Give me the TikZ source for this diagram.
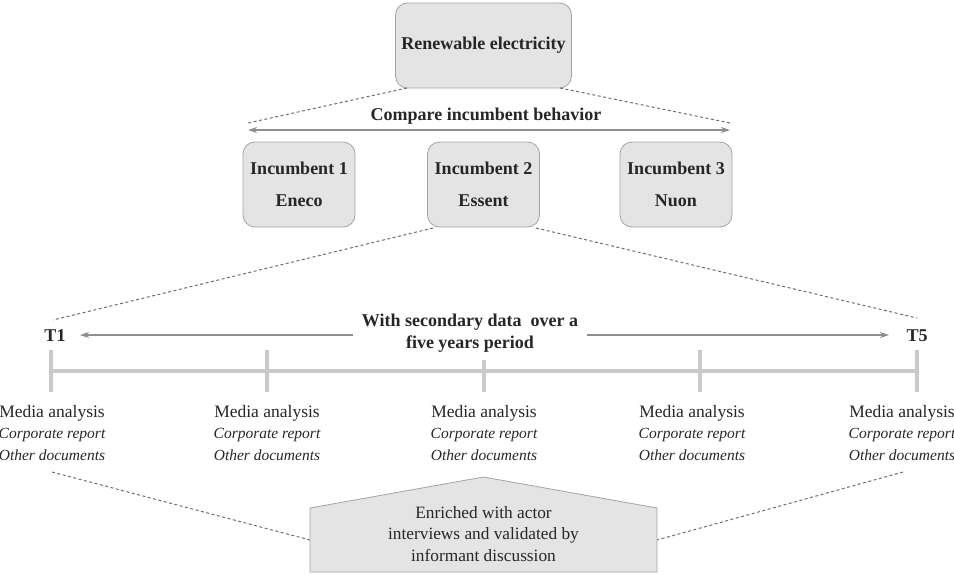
\documentclass[tikz,border=0pt]{standalone}
\usepackage{fontspec}
\setmainfont{Liberation Serif}
\usetikzlibrary{arrows.meta,calc}
\definecolor{boxfill}{HTML}{E4E4E4}
\definecolor{boxline}{HTML}{A3A3A3}
\definecolor{dashc}{HTML}{6E6E6E}
\definecolor{arrc}{HTML}{8E8E8E}
\definecolor{tlc}{HTML}{C9C9C9}
\definecolor{txt}{HTML}{262626}
\newcommand{\itl}[1]{{\fontsize{15.5}{21.5}\selectfont\itshape #1}}
\begin{document}
\begin{tikzpicture}[x=1pt,y=-1pt,
  every node/.style={text=txt,font=\fontsize{17.5}{21}\selectfont,inner sep=0pt},
  rbox/.style={draw=boxline,fill=boxfill,rounded corners=12pt,line width=0.8pt,
     align=center,font=\fontsize{18}{21}\selectfont\bfseries},
  dline/.style={draw=dashc,dashed,dash pattern=on 3pt off 2.5pt,line width=1pt},
  garrow/.style={draw=arrc,line width=1.3pt,-{Stealth[length=9pt,width=6pt]}},
  tline/.style={draw=tlc,line width=4pt},
  lbl/.style={font=\fontsize{18}{21.5}\selectfont\bfseries},
  col/.style={align=center,font=\fontsize{17.5}{21.5}\selectfont}
]
\useasboundingbox (0,0) rectangle (954,574);

% top box
\node[rbox,minimum width=176pt,minimum height=85pt] (ren) at (483.5,45.5) {Renewable electricity};
\coordinate (renL) at (407,88);
\coordinate (renR) at (560,88);
\coordinate (cl) at (248,123);
\coordinate (cr) at (730,123);
\draw[dline] (renL) -- (cl);
\draw[dline] (renR) -- (cr);

\node[lbl] (cmp) at (486,116) {Compare incumbent behavior};
\coordinate (al) at (248,130);
\coordinate (ar) at (730,130);
\draw[draw=arrc,line width=1.3pt,{Stealth[length=9pt,width=6pt]}-{Stealth[length=9pt,width=6pt]}] (al) -- (ar);

% incumbents
\node[rbox,minimum width=112pt,minimum height=85pt] (i1) at (299,184.5) {Incumbent 1\\[11pt]Eneco};
\node[rbox,minimum width=112pt,minimum height=85pt] (i2) at (483.5,184.5) {Incumbent 2\\[11pt]Essent};
\node[rbox,minimum width=112pt,minimum height=85pt] (i3) at (676,184.5) {Incumbent 3\\[11pt]Nuon};

\coordinate (i2L) at (433,228);
\coordinate (i2R) at (536,228);
\coordinate (tl) at (53,320);
\coordinate (tr) at (917,318);
\draw[dline] (i2L) -- (tl);
\draw[dline] (i2R) -- (tr);

% T labels and arrows
\node[lbl] (t1) at (55,336) {T1};
\node[lbl] (t5) at (917,336) {T5};
\node[lbl,align=center] (mid) at (470,333) {With secondary data\ \ over a\\five years period};
\coordinate (m1) at (353,335);
\coordinate (m2) at (587,335);
\coordinate (a1) at (80,335);
\coordinate (a2) at (889,335);
\draw[garrow] (m1) -- (a1);
\draw[garrow] (m2) -- (a2);

% timeline
\coordinate (p1) at (51,371);
\coordinate (p2) at (267,371);
\coordinate (p3) at (484,371);
\coordinate (p4) at (700,371);
\coordinate (p5) at (917,371);
\draw[tline] (p1) -- (p5);
\foreach \p in {p1,p2,p4,p5}{
  \draw[tline] ($(\p)+(0,-21)$) -- ($(\p)+(0,21)$);
}
\draw[tline] ($(p3)+(0,-11)$) -- ($(p3)+(0,21)$);

% columns
\foreach \n/\x in {c1/52,c2/267,c3/484,c4/692,c5/902}{
  \node[col] (\n) at (\x,433) {Media analysis\\\itl{Corporate report}\\\itl{Other documents}};
}

% pentagon
\coordinate (pl) at (310,540);
\coordinate (pr) at (657,540);
\coordinate (q1) at (52,472);
\coordinate (q2) at (903,472);
\draw[dline] (q1) -- (pl);
\draw[dline] (q2) -- (pr);
\draw[draw=boxline,fill=boxfill,line width=0.8pt] (310,508) -- (483.5,477) -- (657,508) -- (657,572) -- (310,572) -- cycle;
\node[align=center,font=\fontsize{17.3}{21.5}\selectfont] (enr) at (483.5,534) {Enriched with actor\\interviews and validated by\\informant discussion};
\end{tikzpicture}
\end{document}
